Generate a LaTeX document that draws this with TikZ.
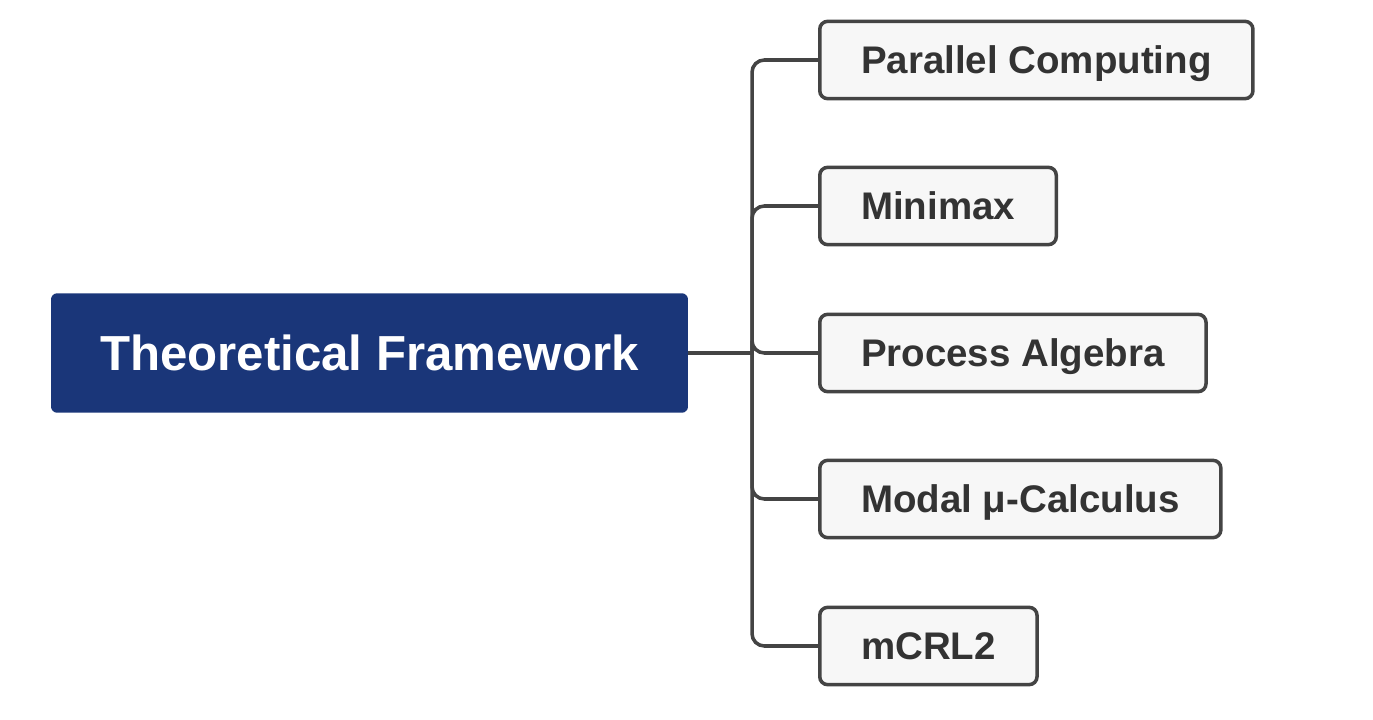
\documentclass[tikz,border=0pt]{standalone}
\usepackage{fontspec}
\setmainfont{Liberation Sans}
\usepackage{tikz}
\definecolor{rootblue}{HTML}{1A3679}
\definecolor{linegray}{HTML}{444444}
\definecolor{boxfill}{HTML}{F7F7F7}
\definecolor{textgray}{HTML}{333333}
\tikzset{
  rootbox/.style={draw=none, fill=rootblue, rounded corners=3.5pt, text=white,
    font=\fontsize{28}{32}\selectfont\bfseries, minimum height=68pt, inner xsep=28pt,
    text height=20pt, text depth=0pt},
  leafbox/.style={draw=linegray, line width=2pt, fill=boxfill, rounded corners=4.5pt,
    text=textgray, font=\fontsize{21.9}{25}\selectfont\bfseries, minimum height=44pt,
    inner xsep=23.5pt, text height=15.7pt, text depth=0pt, anchor=west},
  branch/.style={draw=linegray, line width=2pt, rounded corners=7pt}
}

\begin{document}
\begin{tikzpicture}[x=0.02cm, y=-0.02cm]
  \useasboundingbox (0,0) rectangle (1373,720);
  % central topic
  \node[rootbox] (root) at (369.5,353) {Theoretical Framework};
  \coordinate (fork) at (752,353);
  % subtopics
  \node[leafbox] (par) at (818,60) {Parallel Computing};
  \node[leafbox] (mini) at (818,206) {Minimax};
  \node[leafbox] (proc) at (818,353) {Process Algebra};
  \node[leafbox] (modal) at (818,499) {Modal μ-Calculus};
  \node[leafbox] (mcrl) at (818,646) {mCRL2};
  % connectors
  \draw[branch] (root.east) -- (fork);
  \foreach \leaf in {par, mini, proc, modal, mcrl}
    \draw[branch] (fork) |- (\leaf.west);
\end{tikzpicture}
\end{document}
